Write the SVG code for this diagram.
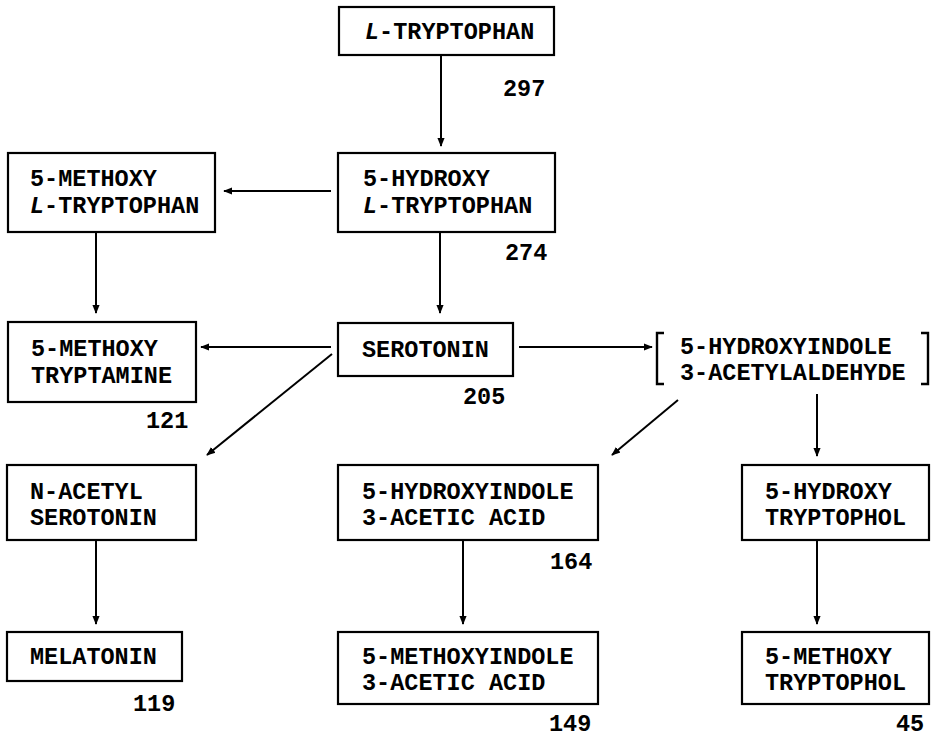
<svg xmlns="http://www.w3.org/2000/svg" width="934" height="739" viewBox="0 0 934 739">
<defs>
<marker id="ah" viewBox="0 0 10 10" refX="9" refY="5" markerWidth="9" markerHeight="9" markerUnits="userSpaceOnUse" orient="auto">
<path d="M0,1 L10,5 L0,9 Z" fill="#000"/>
</marker>
<style>
rect{fill:#fff;stroke:#000;stroke-width:2.2}
text{font-family:"Liberation Mono","DejaVu Sans Mono",monospace;font-weight:bold;font-size:23.5px;fill:#000}
.i{font-style:italic}
.br{fill:none;stroke:#000;stroke-width:2.4}
#edges line{stroke:#000;stroke-width:2;marker-end:url(#ah)}
</style>
</defs>
<rect x="0" y="0" width="934" height="739" style="fill:#fff;stroke:none"/>
<g id="edges">
<line x1="441" y1="55" x2="441" y2="146"/>
<line x1="331" y1="191" x2="224" y2="191"/>
<line x1="96" y1="232" x2="96" y2="313"/>
<line x1="440" y1="232" x2="440" y2="313"/>
<line x1="331" y1="347" x2="201" y2="347"/>
<line x1="519" y1="347" x2="652" y2="347"/>
<line x1="332" y1="354" x2="207" y2="455"/>
<line x1="678" y1="400" x2="612" y2="455"/>
<line x1="817" y1="394" x2="817" y2="456"/>
<line x1="96" y1="540" x2="96" y2="624"/>
<line x1="463" y1="540" x2="463" y2="624"/>
<line x1="817" y1="540" x2="817" y2="624"/>
</g>
<g id="ltrp">
<rect x="339" y="7" width="215" height="48"/>
<text x="365" y="39"><tspan class="i">L</tspan>-TRYPTOPHAN</text>
<text x="503" y="96">297</text>
</g>
<g id="htrp">
<rect x="338" y="153" width="217" height="79"/>
<text x="363" y="186">5-HYDROXY</text>
<text x="363" y="213"><tspan class="i">L</tspan>-TRYPTOPHAN</text>
<text x="505" y="260">274</text>
</g>
<g id="mtrp">
<rect x="8" y="153" width="207" height="79"/>
<text x="30" y="186">5-METHOXY</text>
<text x="30" y="213"><tspan class="i">L</tspan>-TRYPTOPHAN</text>
</g>
<g id="mtryptamine">
<rect x="8" y="322" width="188" height="80"/>
<text x="31" y="356">5-METHOXY</text>
<text x="31" y="383">TRYPTAMINE</text>
<text x="146" y="428">121</text>
</g>
<g id="serotonin">
<rect x="338" y="323" width="175" height="53"/>
<text x="362" y="357">SEROTONIN</text>
<text x="463" y="404">205</text>
</g>
<g id="acetaldehyde">
<path class="br" d="M664,333 L657,333 L657,384 L664,384"/>
<path class="br" d="M921,333 L928,333 L928,384 L921,384"/>
<text x="680" y="354">5-HYDROXYINDOLE</text>
<text x="680" y="380">3-ACETYLALDEHYDE</text>
</g>
<g id="nacetyl">
<rect x="7" y="465" width="189" height="75"/>
<text x="30" y="499">N-ACETYL</text>
<text x="30" y="525">SEROTONIN</text>
</g>
<g id="hiaa">
<rect x="338" y="465" width="260" height="75"/>
<text x="362" y="499">5-HYDROXYINDOLE</text>
<text x="362" y="525">3-ACETIC ACID</text>
<text x="550" y="569">164</text>
</g>
<g id="htryptophol">
<rect x="742" y="465" width="187" height="75"/>
<text x="765" y="499">5-HYDROXY</text>
<text x="765" y="525">TRYPTOPHOL</text>
</g>
<g id="melatonin">
<rect x="7" y="632" width="175" height="49"/>
<text x="30" y="664">MELATONIN</text>
<text x="133" y="711">119</text>
</g>
<g id="miaa">
<rect x="338" y="632" width="260" height="72"/>
<text x="362" y="664">5-METHOXYINDOLE</text>
<text x="362" y="690">3-ACETIC ACID</text>
<text x="549" y="731">149</text>
</g>
<g id="mtryptophol">
<rect x="742" y="632" width="187" height="72"/>
<text x="765" y="664">5-METHOXY</text>
<text x="765" y="690">TRYPTOPHOL</text>
<text x="896" y="731">45</text>
</g>
</svg>
